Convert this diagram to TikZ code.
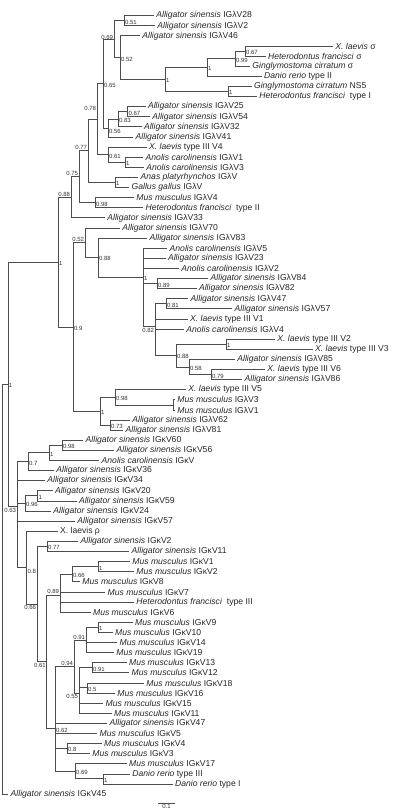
\documentclass[tikz,border=0pt]{standalone}
\usepackage{fontspec}
\setmainfont{Liberation Sans}
\newcommand{\Asi}{\textit{Alligator sinensis}}
\newcommand{\Aca}{\textit{Anolis carolinensis}}
\newcommand{\Mmu}{\textit{Mus musculus}}
\newcommand{\Xla}{\textit{X. laevis}}
\newcommand{\Hfr}{\textit{Heterodontus francisci}}
\newcommand{\Gci}{\textit{Ginglymostoma cirratum}}
\newcommand{\Dre}{\textit{Danio rerio}}

\begin{document}
\begin{tikzpicture}[x=1pt, y=-1pt,
	br/.style={draw=black!70, line width=0.9pt},
	leaf/.style={anchor=west, inner xsep=2.2pt, inner ysep=0pt, text=black!85, font=\fontsize{8.6}{9}\selectfont},
	bs/.style={inner sep=0.8pt, text=black!80, font=\fontsize{6}{6}\selectfont},
	bsr/.style={bs, anchor=west, yshift=-1.3pt},
	bsrd/.style={bs, anchor=west, yshift=-3.5pt},
	bsl/.style={bs, anchor=south east},
	bsb/.style={bs, anchor=north east}]
	\useasboundingbox (0,0) rectangle (412,810);
	\foreach \i/\x/\txt in {
		1/154/{\Asi\ IGλV28}, 2/155/{\Asi\ IGλV2}, 3/140/{\Asi\ IGλV46},
		4/333/{\Xla\ σ}, 5/265.7/{\Hfr\ σ}, 6/250/{\Gci\ σ},
		7/261.7/{\Dre\ type II}, 8/251.7/{\Gci\ NS5}, 9/257/{\Hfr\ \ type I},
		10/145.7/{\Asi\ IGλV25}, 11/150/{\Asi\ IGλV54}, 12/141.7/{\Asi\ IGλV32},
		13/133.3/{\Asi\ IGλV41}, 14/146.7/{\Xla\ type III V4}, 15/143.3/{\Aca\ IGλV1},
		16/144/{\Aca\ IGλV3}, 17/138.3/{\textit{Anas platyrhynchos} IGλV}, 18/129.3/{\textit{Gallus gallus} IGλV},
		19/134/{\Mmu\ IGλV4}, 20/143.3/{\Hfr\ \ type II}, 21/105/{\Asi\ IGλV33},
		22/120/{\Asi\ IGλV70}, 23/147.3/{\Asi\ IGλV83}, 24/167.3/{\Aca\ IGλV5},
		25/165.7/{\Asi\ IGλV23}, 26/179/{\Aca\ IGλV2}, 27/208.3/{\Asi\ IGλV84},
		28/196.7/{\Asi\ IGλV82}, 29/188.3/{\Asi\ IGλV47}, 30/232.3/{\Asi\ IGλV57},
		31/187.7/{\Xla\ type III V1}, 32/184/{\Aca\ IGλV4}, 33/275/{\Xla\ type III V2},
		34/312.7/{\Xla\ type III V3}, 35/235/{\Asi\ IGλV85}, 36/265/{\Xla\ type III V6},
		37/242.3/{\Asi\ IGλV86}, 38/186/{\Xla\ type III V5}, 39/175/{\Mmu\ IGλV3},
		40/175/{\Mmu\ IGλV1}, 41/130/{\Asi\ IGλV62}, 42/123.3/{\Asi\ IGλV81},
		43/83.3/{\Asi\ IGκV60}, 44/114.3/{\Asi\ IGκV56}, 45/99.3/{\Aca\ IGκV},
		46/54/{\Asi\ IGκV36}, 47/45/{\Asi\ IGκV34}, 48/52.7/{\Asi\ IGκV20},
		49/76.7/{\Asi\ IGκV59}, 50/51/{\Asi\ IGκV24}, 51/75/{\Asi\ IGκV57},
		52/57.7/{X. laevis ρ}, 53/78.3/{\Asi\ IGκV2}, 54/129.3/{\Asi\ IGκV11},
		55/130/{\Mmu\ IGκV1}, 56/134/{\Mmu\ IGκV2}, 57/80/{\Mmu\ IGκV8},
		58/105.3/{\Mmu\ IGκV7}, 59/134/{\Hfr\ \ type III}, 60/90.7/{\Mmu\ IGκV6},
		61/132.7/{\Mmu\ IGκV9}, 62/112.7/{\Mmu\ IGκV10}, 63/117.3/{\Mmu\ IGκV14},
		64/114/{\Mmu\ IGκV19}, 65/126.7/{\Mmu\ IGκV13}, 66/129.3/{\Mmu\ IGκV12},
		67/144/{\Mmu\ IGκV18}, 68/115/{\Mmu\ IGκV16}, 69/103.3/{\Mmu\ IGκV15},
		70/111.7/{\Mmu\ IGκV11}, 71/107.3/{\Asi\ IGκV47}, 72/97.3/{\Mmu\ IGκV5},
		73/101.7/{\Mmu\ IGκV4}, 74/90/{\Mmu\ IGκV3}, 75/126.7/{\Mmu\ IGκV17},
		76/130/{\Dre\ type III}, 77/172.7/{\Dre\ type I}, 78/8.3/{\Asi\ IGκV45}}
		\node[leaf] (l\i) at (\x,{15.7+10.11*(\i-1)}) {\txt};

	\coordinate (a1) at (124,20.75);
	\coordinate (a2) at (245,51.05);
	\coordinate (a3) at (235,58.7);
	\coordinate (a4) at (207,67.55);
	\coordinate (a5) at (228,91.55);
	\coordinate (a6) at (165,79.55);
	\coordinate (a7) at (120,57.7);
	\coordinate (a8) at (114,39.2);
	\coordinate (a9) at (127.5,111.75);
	\coordinate (a10) at (118,119.3);
	\coordinate (a11) at (108,128.15);
	\coordinate (a12) at (103,83.7);
	\coordinate (a13) at (125,162.3);
	\coordinate (a14) at (108,154.7);
	\coordinate (a15) at (97,119.2);
	\coordinate (a16) at (115,182.55);
	\coordinate (a17) at (88,150.9);
	\coordinate (a18) at (95,202.75);
	\coordinate (a19) at (79,176.8);
	\coordinate (a20) at (71,197.35);
	\coordinate (b1) at (157,283.65);
	\coordinate (b2) at (166,303.85);
	\coordinate (b3) at (226,344.25);
	\coordinate (b4) at (211,374.65);
	\coordinate (b5) at (189,367.0);
	\coordinate (b6) at (176,355.6);
	\coordinate (b7) at (155,326.9);
	\coordinate (b8) at (143,277.1);
	\coordinate (b9) at (98,257.6);
	\coordinate (b10) at (85,242.8);
	\coordinate (b11) at (173,404.95);
	\coordinate (b12) at (115,397.4);
	\coordinate (b13) at (110,425.15);
	\coordinate (b14) at (100,411.3);
	\coordinate (b15) at (73,327.05);
	\coordinate (lam) at (58,262.2);
	\coordinate (c1) at (62,445.35);
	\coordinate (c2) at (49,452.9);
	\coordinate (c3) at (28,461.75);
	\coordinate (c4) at (37.7,495.85);
	\coordinate (c5) at (25,503.4);
	\coordinate (c6) at (47,546.45);
	\coordinate (c7) at (98,566.65);
	\coordinate (c8) at (72,574.2);
	\coordinate (c9) at (60,595.05);
	\coordinate (c10) at (98,627.25);
	\coordinate (c11) at (86,640.7);
	\coordinate (c12) at (92,667.65);
	\coordinate (c13) at (87,687.9);
	\coordinate (c14) at (79,692.95);
	\coordinate (c15) at (74,666.8);
	\coordinate (c16) at (67,748.55);
	\coordinate (c17) at (103,778.85);
	\coordinate (c18) at (75,771.3);
	\coordinate (c19) at (55,728.7);
	\coordinate (c20) at (46.7,661.9);
	\coordinate (c21) at (37,604.2);
	\coordinate (c22) at (26.7,567.7);
	\coordinate (kap) at (17,506.9);
	\coordinate (top) at (8,384.55);
	\coordinate (root) at (2.7,589.3);

	\foreach \p/\c in {a1/l1, a1/l2, a2/l4, a2/l5, a3/a2, a3/l6, a4/a3, a4/l7, a5/l8, a5/l9,
		a6/a4, a6/a5, a7/l3, a7/a6, a8/a1, a8/a7, a9/l10, a9/l11, a10/a9, a10/l12,
		a11/a10, a11/l13, a12/a8, a12/a11, a13/l15, a13/l16, a14/l14, a14/a13, a15/a12, a15/a14,
		a16/l17, a16/l18, a17/a15, a17/a16, a18/l19, a18/l20, a19/a17, a19/a18, a20/a19, a20/l21,
		b1/l27, b1/l28, b2/l29, b2/l30, b3/l33, b3/l34, b4/l36, b4/l37, b5/l35, b5/b4,
		b6/b3, b6/b5, b7/b2, b7/l31, b7/l32, b7/b6, b8/l24, b8/l25, b8/l26, b8/b1, b8/b7,
		b9/l23, b9/b8, b10/l22, b10/b9, b11/l39, b11/l40, b12/l38, b12/b11, b13/l41, b13/l42,
		b14/b12, b14/b13, b15/b10, b15/b14, lam/a20, lam/b15,
		c1/l43, c1/l44, c2/c1, c2/l45, c3/c2, c3/l46, c4/l48, c4/l49, c5/c4, c5/l50,
		c6/l53, c6/l54, c7/l55, c7/l56, c8/c7, c8/l57, c9/c8, c9/l58, c9/l59, c9/l60,
		c10/l61, c10/l62, c11/c10, c11/l63, c11/l64, c12/l65, c12/l66, c13/l67, c13/l68,
		c14/c12, c14/c13, c14/l69, c14/l70, c15/c11, c15/c14, c16/l73, c16/l74, c17/l76, c17/l77,
		c18/l75, c18/c17, c19/c15, c19/l71, c19/l72, c19/c16, c19/c18, c20/c9, c20/c19,
		c21/c6, c21/c20, c22/l52, c22/c21, kap/c3, kap/l47, kap/c5, kap/l51, kap/c22,
		top/lam, top/kap, root/top, root/l78}
		\draw[br] (\p) |- (\c);

	\foreach \nd/\sty/\lbl in {a1/bsr/0.51, a2/bsr/0.67, a3/bsr/0.99, a4/bsr/1, a5/bsr/1, a6/bsr/1,
		a7/bsr/0.52, a9/bsr/0.67, a10/bsr/0.83, a11/bsrd/0.56, a12/bsr/0.65, a13/bsr/1, a14/bsr/0.61,
		a16/bsr/1, a17/bsl/0.77, a18/bsr/0.98, a19/bsl/0.75, a20/bsl/0.88,
		b1/bsr/0.89, b2/bsr/0.81, b3/bsr/1, b4/bsr/0.79, b5/bsr/0.58, b6/bsr/0.88, b7/bsb/0.82,
		b8/bsr/1, b9/bsr/0.88, b10/bsl/0.52, b12/bsr/0.98, b13/bsr/0.73, b14/bsr/1, b15/bsr/0.9, lam/bsr/1,
		c1/bsr/0.98, c2/bsr/1, c3/bsr/0.7, c4/bsr/1, c5/bsr/0.96, c6/bsr/0.77, c7/bsr/1, c8/bsr/0.66,
		c9/bsl/0.89, c10/bsr/1, c11/bsl/0.91, c12/bsr/0.91, c13/bsr/0.5, c14/bsb/0.55, c15/bsl/0.94,
		c16/bsr/0.8, c17/bsr/1, c18/bsr/0.69, c19/bsr/0.62, c20/bsb/0.61, c21/bsb/0.66, c22/bsrd/0.8,
		kap/bsb/0.63, top/bsr/1}
		\node[\sty] (v\nd) at (\nd) {\lbl};
	\node[bsl, yshift=-1.5pt] (va8) at (a8) {0.69};
	\node[bsl, yshift=7.5pt] (va15) at (a15) {0.78};

	\coordinate (s0) at (158,803.5);
	\coordinate (s1) at (175,803.5);
	\draw[br] (s0) -- node[bs, below] (scl) {0.1} (s1);
\end{tikzpicture}
\end{document}
